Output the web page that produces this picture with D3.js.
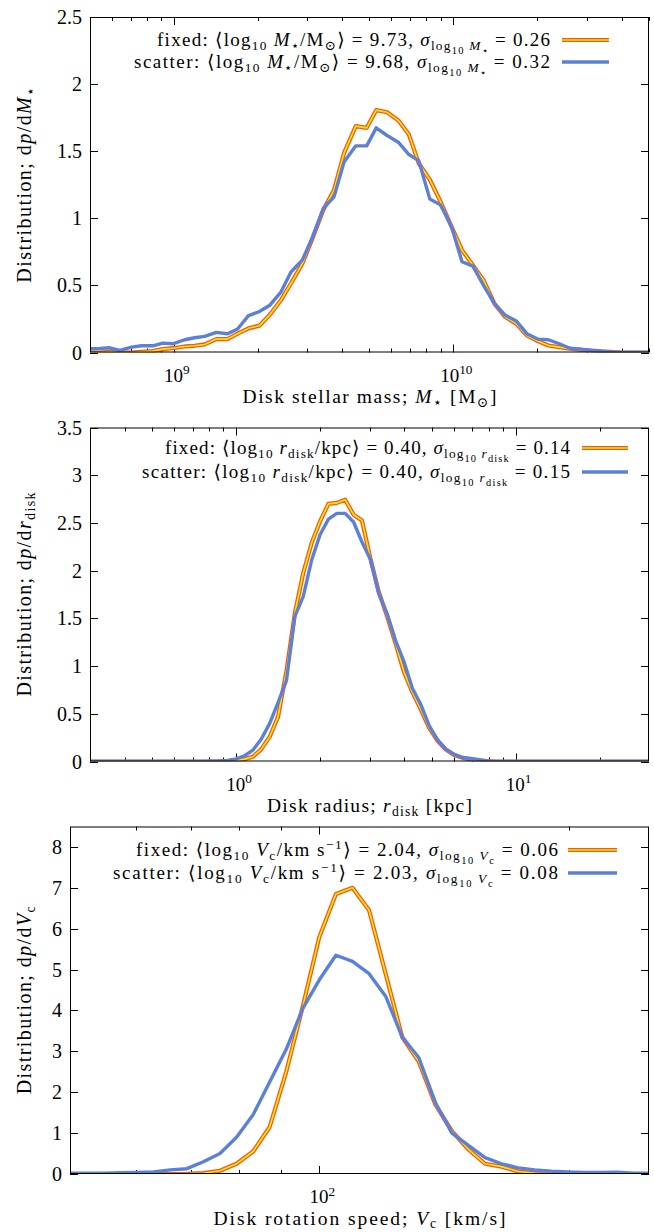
<!DOCTYPE html>
<html>
<head>
<meta charset="utf-8">
<script src="https://cdn.jsdelivr.net/npm/d3@7"></script>
<style>
  body { margin: 0; background: #fff; }
  text { font-family: "Liberation Serif", "DejaVu Serif", serif; fill: #000; }
</style>
</head>
<body>
<svg id="chart" width="654" height="1232"></svg>
<script>
// ---- panel 1: disk stellar mass (x values are log10 M) ----
const massLog = [8.700, 8.736, 8.771, 8.807, 8.849, 8.884, 8.925, 8.960, 8.996, 9.039,
  9.074, 9.110, 9.152, 9.192, 9.228, 9.267, 9.306, 9.342, 9.383, 9.419,
  9.460, 9.496, 9.535, 9.573, 9.609, 9.651, 9.690, 9.724, 9.763, 9.803,
  9.841, 9.876, 9.916, 9.954, 9.993, 10.031, 10.070, 10.108, 10.147, 10.186,
  10.225, 10.263, 10.302, 10.340, 10.379, 10.417, 10.459, 10.494, 10.530, 10.572,
  10.613, 10.649, 10.700];
const massFixed = [0.0, 0.0, 0.005, 0.0, 0.0, 0.005, 0.01, 0.025, 0.032, 0.045,
  0.05, 0.06, 0.10, 0.10, 0.14, 0.18, 0.20, 0.277, 0.39, 0.514,
  0.664, 0.85, 1.063, 1.21, 1.487, 1.687, 1.674, 1.806, 1.79, 1.73,
  1.624, 1.41, 1.287, 1.125, 0.94, 0.763, 0.65, 0.539, 0.364, 0.264,
  0.215, 0.127, 0.085, 0.052, 0.04, 0.028, 0.02, 0.015, 0.008, 0.003,
  0.0, 0.0, 0.0];
const massScatter = [0.028, 0.03, 0.035, 0.015, 0.04, 0.05, 0.05, 0.07, 0.065, 0.095,
  0.11, 0.12, 0.15, 0.14, 0.175, 0.275, 0.305, 0.35, 0.45, 0.60,
  0.69, 0.86, 1.075, 1.16, 1.42, 1.54, 1.54, 1.674, 1.617, 1.567,
  1.475, 1.43, 1.143, 1.10, 0.94, 0.676, 0.644, 0.50, 0.364, 0.277,
  0.235, 0.14, 0.10, 0.095, 0.065, 0.032, 0.025, 0.015, 0.01, 0.002,
  0.0, 0.0, 0.0];

// ---- panel 2: disk radius (x values are log10 r/kpc) ----
const radiusLog = [-0.54, -0.12, -0.09, -0.06, -0.03, 0.00, 0.03, 0.06, 0.09, 0.12,
  0.15, 0.18, 0.21, 0.24, 0.27, 0.30, 0.33, 0.36, 0.39, 0.42,
  0.45, 0.48, 0.51, 0.54, 0.57, 0.60, 0.63, 0.66, 0.69, 0.72,
  0.75, 0.78, 0.81, 0.84, 0.87, 0.90, 0.93, 1.50];
const radiusFixed = [0.0, 0.0, 0.0, 0.001, 0.003, 0.01, 0.025, 0.05, 0.13, 0.26,
  0.47, 0.95, 1.556, 1.975, 2.29, 2.516, 2.70, 2.71, 2.743, 2.586,
  2.526, 2.13, 1.78, 1.52, 1.24, 0.94, 0.73, 0.55, 0.355, 0.22,
  0.125, 0.068, 0.038, 0.02, 0.01, 0.003, 0.0, 0.0];
const radiusScatter = [0.0, 0.0, 0.002, 0.005, 0.012, 0.028, 0.06, 0.12, 0.235, 0.40,
  0.62, 0.85, 1.52, 1.73, 2.11, 2.376, 2.54, 2.60, 2.60, 2.51,
  2.30, 2.12, 1.76, 1.55, 1.27, 1.05, 0.77, 0.60, 0.38, 0.23,
  0.13, 0.075, 0.042, 0.032, 0.02, 0.003, 0.0, 0.0];

// ---- panel 3: rotation speed (x values are log10 V/km s^-1) ----
const speedLog = [1.68, 1.70, 1.72, 1.74, 1.76, 1.78, 1.80, 1.82, 1.84, 1.86,
  1.88, 1.90, 1.92, 1.94, 1.96, 1.98, 2.00, 2.02, 2.04, 2.06,
  2.08, 2.10, 2.12, 2.14, 2.16, 2.18, 2.20, 2.22, 2.24, 2.26,
  2.28, 2.30, 2.32, 2.34, 2.36, 2.38, 2.40];
const speedFixed = [0.0, 0.0, 0.0, 0.0, 0.0, 0.0, 0.0, 0.0, 0.005, 0.02,
  0.08, 0.25, 0.55, 1.15, 2.5, 4.1, 5.8, 6.85, 7.0, 6.45,
  4.9, 3.35, 2.75, 1.7, 1.05, 0.6, 0.25, 0.18, 0.06, 0.02,
  0.01, 0.0, 0.0, 0.0, 0.0, 0.0, 0.0];
const speedScatter = [0.02, 0.02, 0.02, 0.02, 0.03, 0.04, 0.05, 0.10, 0.13, 0.30,
  0.50, 0.90, 1.45, 2.25, 3.05, 4.05, 4.75, 5.35, 5.2, 4.9,
  4.35, 3.35, 2.85, 1.75, 1.0, 0.7, 0.4, 0.25, 0.15, 0.10,
  0.07, 0.05, 0.04, 0.04, 0.045, 0.02, 0.02];

const massTicks = [0, 0.5, 1, 1.5, 2, 2.5];
const radiusTicks = [0, 0.5, 1, 1.5, 2, 2.5, 3, 3.5];
const speedTicks = [0, 1, 2, 3, 4, 5, 6, 7, 8];

const orange = "#ef5a24";
const yellow = "#ffe800";
const blue = "#5b80d8";

const svg = d3.select("#chart");

// writes a list of [text, style] pieces as tspans
// style: i = italic, s = subscript, S = second-level subscript, u = superscript
const rich = (sel, parts, size) => {
  let cur = 0;
  parts.forEach(([t, st = ""]) => {
    let off = 0, fs = size;
    if (st.includes("S")) { off = 0.4 * size; fs = 0.55 * size; }
    else if (st.includes("s")) { off = 0.2 * size; fs = 0.7 * size; }
    else if (st.includes("u")) { off = -0.38 * size; fs = 0.7 * size; }
    sel.append("tspan")
      .attr("dy", off - cur)
      .attr("font-size", fs)
      .attr("font-style", st.includes("i") ? "italic" : null)
      .text(t);
    cur = off;
  });
  return sel;
};

const panels = [
  {
    xs: massLog, fixed: massFixed, scatter: massScatter,
    xDomain: [Math.pow(10, 8.7), Math.pow(10, 10.7)], yDomain: [0, 2.5], yTicks: massTicks,
    left: 90, right: 649, top: 17, bottom: 352.5,
    xMajors: [9, 10],
    xLabel: [["Disk stellar mass; "], ["M", "i"], ["⋆", "s"], [" [M"], ["⊙", "s"], ["]"]],
    xLabelLen: 254,
    yLabel: [["Distribution; d"], ["p", "i"], ["/d"], ["M", "i"], ["⋆", "s"]],
    yLabelLen: 196,
    legend: [
      [["fixed:  ⟨log"], ["10", "s"], [" "], ["M", "i"], ["⋆", "s"], ["/M"], ["⊙", "s"], ["⟩ = 9.73, "],
       ["σ", "i"], ["log", "s"], ["10", "S"], [" ", "s"], ["M", "si"], ["⋆", "S"], [" = 0.26"]],
      [["scatter:  ⟨log"], ["10", "s"], [" "], ["M", "i"], ["⋆", "s"], ["/M"], ["⊙", "s"], ["⟩ = 9.68, "],
       ["σ", "i"], ["log", "s"], ["10", "S"], [" ", "s"], ["M", "si"], ["⋆", "S"], [" = 0.32"]]
    ],
    legendLen: [393, 416],
    legendX: 550, legendY: [40, 62], sampleX: [562, 609]
  },
  {
    xs: radiusLog, fixed: radiusFixed, scatter: radiusScatter,
    xDomain: [Math.pow(10, -0.523), Math.pow(10, 1.477)], yDomain: [0, 3.5], yTicks: radiusTicks,
    left: 90, right: 649, top: 427.5, bottom: 761.5,
    xMajors: [0, 1],
    xLabel: [["Disk radius; "], ["r", "i"], ["disk", "s"], [" [kpc]"]],
    xLabelLen: 205,
    yLabel: [["Distribution; d"], ["p", "i"], ["/d"], ["r", "i"], ["disk", "s"]],
    yLabelLen: 204,
    legend: [
      [["fixed:  ⟨log"], ["10", "s"], [" "], ["r", "i"], ["disk", "s"], ["/kpc⟩ = 0.40, "],
       ["σ", "i"], ["log", "s"], ["10", "S"], [" ", "s"], ["r", "si"], ["disk", "S"], [" = 0.14"]],
      [["scatter:  ⟨log"], ["10", "s"], [" "], ["r", "i"], ["disk", "s"], ["/kpc⟩ = 0.40, "],
       ["σ", "i"], ["log", "s"], ["10", "S"], [" ", "s"], ["r", "si"], ["disk", "S"], [" = 0.15"]]
    ],
    legendLen: [405, 428],
    legendX: 570, legendY: [448, 472], sampleX: [582, 628]
  },
  {
    xs: speedLog, fixed: speedFixed, scatter: speedScatter,
    xDomain: [50, 250], yDomain: [0, 8.5], yTicks: speedTicks,
    left: 70, right: 649, top: 826.5, bottom: 1174,
    xMajors: [2],
    xLabel: [["Disk rotation speed; "], ["V", "i"], ["c", "s"], [" [km/s]"]],
    xLabelLen: 292,
    yLabel: [["Distribution; d"], ["p", "i"], ["/d"], ["V", "i"], ["c", "s"]],
    yLabelLen: 188,
    legend: [
      [["fixed:  ⟨log"], ["10", "s"], [" "], ["V", "i"], ["c", "s"], ["/km s"], ["−1", "u"], ["⟩ = 2.04, "],
       ["σ", "i"], ["log", "s"], ["10", "S"], [" ", "s"], ["V", "si"], ["c", "S"], [" = 0.06"]],
      [["scatter:  ⟨log"], ["10", "s"], [" "], ["V", "i"], ["c", "s"], ["/km s"], ["−1", "u"], ["⟩ = 2.03, "],
       ["σ", "i"], ["log", "s"], ["10", "S"], [" ", "s"], ["V", "si"], ["c", "S"], [" = 0.08"]]
    ],
    legendLen: [422, 445],
    legendX: 558, legendY: [850, 873], sampleX: [568, 617]
  }
];

const drawPanel = (p, idx) => {
  const x = d3.scaleLog().domain(p.xDomain).range([p.left, p.right]);
  const y = d3.scaleLinear().domain(p.yDomain).range([p.bottom, p.top]);
  const g = svg.append("g");

  g.append("clipPath").attr("id", "clip" + idx)
    .append("rect")
    .attr("x", p.left).attr("y", p.top)
    .attr("width", p.right - p.left).attr("height", p.bottom - p.top);

  // log ticks, mirrored on top, pointing inwards
  const lo = Math.floor(Math.log10(p.xDomain[0]));
  const hi = Math.ceil(Math.log10(p.xDomain[1]));
  const xTicks = [];
  for (let d = lo; d <= hi; d++) {
    for (let m = 1; m <= 9; m++) {
      const v = m * Math.pow(10, d);
      if (v >= p.xDomain[0] * 1.001 && v <= p.xDomain[1] * 0.999) xTicks.push({ v, major: m === 1 });
    }
  }
  const tickG = g.append("g").attr("stroke", "#000").attr("stroke-width", 1);
  xTicks.forEach((t) => {
    const len = t.major ? 8 : 4;
    const px = Math.round(x(t.v)) + 0.5;
    tickG.append("line").attr("x1", px).attr("x2", px).attr("y1", p.bottom).attr("y2", p.bottom - len);
    tickG.append("line").attr("x1", px).attr("x2", px).attr("y1", p.top).attr("y2", p.top + len);
  });
  p.yTicks.forEach((v) => {
    const py = Math.round(y(v)) + 0.5;
    tickG.append("line").attr("x1", p.left).attr("x2", p.left + 8).attr("y1", py).attr("y2", py);
    tickG.append("line").attr("x1", p.right).attr("x2", p.right - 8).attr("y1", py).attr("y2", py);
  });

  // y tick labels
  g.append("g").selectAll("text")
    .data(p.yTicks)
    .join("text")
    .attr("x", p.left - 8)
    .attr("y", (d) => y(d) + 7)
    .attr("text-anchor", "end")
    .attr("font-size", 20)
    .text((d) => d3.format("~g")(d));

  // x tick labels as 10^n
  p.xMajors.forEach((e) => {
    const t = g.append("text")
      .attr("x", x(Math.pow(10, e)) + 3)
      .attr("y", p.bottom + 29)
      .attr("text-anchor", "middle")
      .attr("font-size", 19);
    rich(t, [["10"], [String(e), "u"]], 19);
  });

  // axis titles
  const xt = g.append("text")
    .attr("x", (p.left + p.right) / 2)
    .attr("y", p.bottom + 50.5)
    .attr("text-anchor", "middle")
    .attr("font-size", 19.5)
    .attr("textLength", p.xLabelLen)
    .attr("lengthAdjust", "spacing");
  rich(xt, p.xLabel, 19.5);

  const yt = g.append("text")
    .attr("transform", `translate(31,${(p.top + p.bottom) / 2}) rotate(-90)`)
    .attr("text-anchor", "middle")
    .attr("font-size", 20)
    .attr("textLength", p.yLabelLen)
    .attr("lengthAdjust", "spacing");
  rich(yt, p.yLabel, 20);

  // curves
  const line = d3.line()
    .x((d, i) => x(Math.pow(10, p.xs[i])))
    .y((d) => y(d));
  const curves = g.append("g").attr("clip-path", `url(#clip${idx})`).attr("fill", "none")
    .attr("stroke-linejoin", "round");
  curves.append("path").datum(p.fixed).attr("d", line).attr("stroke", orange).attr("stroke-width", 4.2);
  curves.append("path").datum(p.fixed).attr("d", line).attr("stroke", yellow).attr("stroke-width", 1.6);
  curves.append("path").datum(p.scatter).attr("d", line).attr("stroke", blue).attr("stroke-width", 3.4);

  // frame
  g.append("rect")
    .attr("x", p.left + 0.5).attr("y", p.top + 0.5)
    .attr("width", p.right - p.left - 1).attr("height", p.bottom - p.top - 1)
    .attr("fill", "none").attr("stroke", "#000").attr("stroke-width", 1);

  // legend
  p.legend.forEach((parts, i) => {
    const ly = p.legendY[i];
    const t = g.append("text")
      .attr("x", p.legendX)
      .attr("y", ly + 6)
      .attr("text-anchor", "end")
      .attr("font-size", 19)
      .attr("textLength", p.legendLen[i])
      .attr("lengthAdjust", "spacing");
    rich(t, parts, 19);
    if (i === 0) {
      g.append("line").attr("x1", p.sampleX[0]).attr("x2", p.sampleX[1]).attr("y1", ly).attr("y2", ly)
        .attr("stroke", orange).attr("stroke-width", 4.2);
      g.append("line").attr("x1", p.sampleX[0]).attr("x2", p.sampleX[1]).attr("y1", ly).attr("y2", ly)
        .attr("stroke", yellow).attr("stroke-width", 1.6);
    } else {
      g.append("line").attr("x1", p.sampleX[0]).attr("x2", p.sampleX[1]).attr("y1", ly).attr("y2", ly)
        .attr("stroke", blue).attr("stroke-width", 3.4);
    }
  });
};

panels.forEach(drawPanel);
</script>
</body>
</html>
